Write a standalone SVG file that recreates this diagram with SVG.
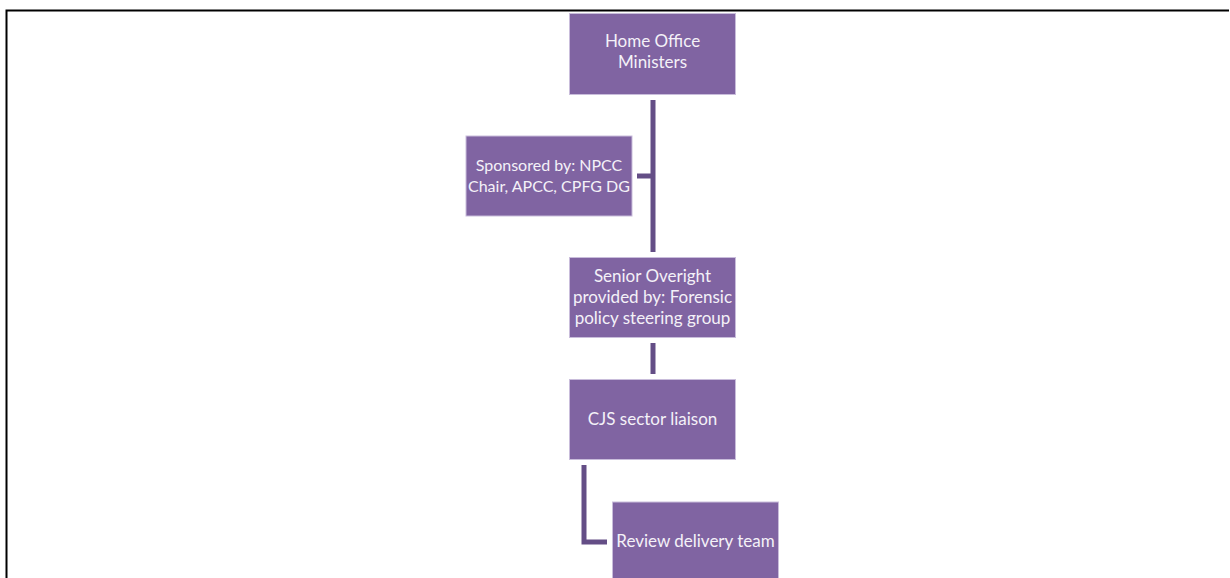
<svg xmlns="http://www.w3.org/2000/svg" width="1230" height="578" viewBox="0 0 1230 578">
<style>
.box{fill:#8064a2;stroke:#c9bddb;stroke-width:1}
.t{font-family:Lato,"Open Sans","Liberation Sans",sans-serif;font-size:17px;fill:#f4f1f8;text-anchor:middle}
.s{font-size:16px}
.c{fill:none;stroke:#644e86;stroke-width:5}
</style>
<rect width="1230" height="578" fill="#ffffff"/>
<path d="M6.5 578 V10.5 H1229" fill="none" stroke="#000" stroke-width="2"/>
<g id="connectors">
<path class="c" d="M653 100 V252"/>
<path class="c" d="M637 176 H653"/>
<path class="c" d="M653 343 V374"/>
<path class="c" d="M584 465 V542 H607"/>
</g>
<g id="home-office">
<rect class="box" x="569.5" y="13.5" width="166" height="81"/>
<text class="t" x="652.5" y="47">Home Office</text>
<text class="t" x="652.5" y="68">Ministers</text>
</g>
<g id="sponsored">
<rect class="box" x="466" y="136" width="166" height="80"/>
<text class="t s" x="549" y="171">Sponsored by: NPCC</text>
<text class="t s" x="549" y="192">Chair, APCC, CPFG DG</text>
</g>
<g id="senior">
<rect class="box" x="569.5" y="257.5" width="166" height="80"/>
<text class="t" x="652.5" y="282">Senior Overight</text>
<text class="t" x="652.5" y="303">provided by: Forensic</text>
<text class="t" x="652.5" y="324">policy steering group</text>
</g>
<g id="cjs">
<rect class="box" x="569.5" y="379.5" width="166" height="80"/>
<text class="t" x="652.5" y="425">CJS sector liaison</text>
</g>
<g id="review">
<rect class="box" x="612.5" y="502" width="166" height="80"/>
<text class="t" x="695.5" y="547">Review delivery team</text>
</g>
</svg>
